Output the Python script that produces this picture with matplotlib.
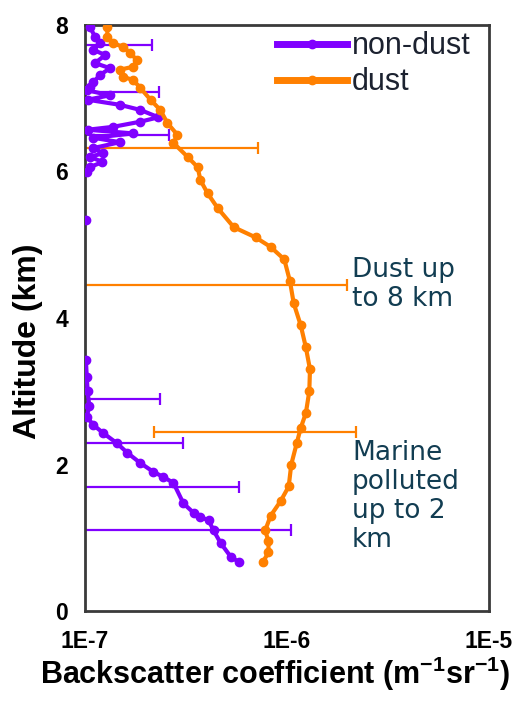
import numpy as np
import matplotlib
matplotlib.use('Agg')
import matplotlib.pyplot as plt

plt.rcParams['font.family'] = ['Liberation Sans', 'DejaVu Sans']
plt.rcParams['mathtext.default'] = 'regular'

# dust profile (altitude km, backscatter m-1 sr-1)
dust_alt = [0.67, 0.8, 0.95, 1.1, 1.3, 1.5, 1.7, 2.0, 2.3, 2.5, 2.7, 3.0, 3.3, 3.6,
            3.9, 4.2, 4.5, 4.8, 4.97, 5.1, 5.24, 5.5, 5.7, 5.88, 6.06, 6.2, 6.39,
            6.5, 6.66, 6.84, 6.98, 7.14, 7.25, 7.29, 7.39, 7.43, 7.52, 7.62, 7.7,
            7.75, 7.84, 7.97]
dust_val = [7.6e-7, 8.1e-7, 8.1e-7, 7.8e-7, 8.3e-7, 9.3e-7, 1.02e-6, 1.05e-6,
            1.12e-6, 1.17e-6, 1.24e-6, 1.29e-6, 1.30e-6, 1.24e-6, 1.17e-6,
            1.08e-6, 1.035e-6, 9.7e-7, 8.3e-7, 7.0e-7, 5.45e-7, 4.54e-7, 4.05e-7,
            3.73e-7, 3.61e-7, 3.22e-7, 2.74e-7, 2.87e-7, 2.56e-7, 2.36e-7,
            2.11e-7, 1.88e-7, 1.73e-7, 1.55e-7, 1.49e-7, 1.73e-7, 1.81e-7,
            1.67e-7, 1.55e-7, 1.38e-7, 1.29e-7, 1.29e-7]

# non-dust profile (nan where the values fall below the axis)
nd_alt = [0.67, 0.74, 0.93, 1.1, 1.24, 1.28, 1.34, 1.47, 1.75, 1.83, 1.9, 2.02,
          2.16, 2.29, 2.43, 2.54, 2.65, 2.8, 3.0, 3.2, 3.43, 4.4, 5.34, 5.6,
          5.99, 6.06, 6.13, 6.2, 6.25, 6.32, 6.40, 6.46, 6.52, 6.57, 6.61, 6.68,
          6.74, 6.84, 6.91, 6.98, 7.04, 7.11, 7.15, 7.22, 7.32, 7.41, 7.48, 7.59,
          7.66, 7.75, 7.84, 7.97]
nd_val = [5.77e-7, 5.27e-7, 4.69e-7, 4.33e-7, 4.09e-7, 3.73e-7, 3.45e-7, 3.07e-7,
          2.74e-7, 2.44e-7, 2.18e-7, 1.88e-7, 1.62e-7, 1.44e-7, 1.23e-7, 1.10e-7,
          1.02e-7, 1.05e-7, 1.03e-7, 1.02e-7, 1.01e-7, np.nan, 1.01e-7, np.nan,
          1.02e-7, 1.06e-7, 1.22e-7, 1.06e-7, 1.23e-7, 1.10e-7, 1.49e-7, 1.10e-7,
          1.73e-7, 1.03e-7, 1.38e-7, 1.88e-7, 2.31e-7, 1.88e-7, 1.49e-7, 1.03e-7,
          1.33e-7, 1.02e-7, 1.06e-7, 1.10e-7, 1.19e-7, 1.33e-7, 1.12e-7, 1.26e-7,
          1.10e-7, 1.19e-7, 1.12e-7, 1.06e-7]

# error bars
nd_err_alt = [7.73, 7.09, 6.5, 2.9, 2.3, 1.69, 1.1]
nd_err_val = [1.1e-7, 1.1e-7, 1.2e-7, 1.03e-7, 1.44e-7, 2.74e-7, 4.33e-7]
nd_err = [1.05e-7, 1.23e-7, 1.42e-7, 1.33e-7, 1.63e-7, 3.04e-7, 6.12e-7]
dust_err_alt = [6.32, 4.45, 2.45]
dust_err_val = [2.8e-7, 1.035e-6, 1.21e-6]
dust_err = [4.4e-7, 0.95e-6, 0.99e-6]

purple = '#8000ff'
orange = '#ff8000'

fig = plt.figure(figsize=(5.28, 7.02), dpi=100)
ax = fig.add_axes([0.161, 0.1296, 0.765, 0.8348])
ax.set_xscale('log')

ax.errorbar(nd_err_val, nd_err_alt, xerr=nd_err, fmt='none', ecolor=purple,
            elinewidth=1.6, capsize=4.5, capthick=1.6, zorder=2)
ax.errorbar(dust_err_val, dust_err_alt, xerr=dust_err, fmt='none', ecolor=orange,
            elinewidth=1.6, capsize=4.5, capthick=1.6, zorder=2)

ax.plot(nd_val, nd_alt, color=purple, lw=3, marker='o', ms=6, label='non-dust', zorder=3)
ax.plot(dust_val, dust_alt, color=orange, lw=3, marker='o', ms=6, label='dust', zorder=3)

ax.set_xlim(1e-7, 1e-5)
ax.set_ylim(0, 8)
ax.set_xticks([1e-7, 1e-6, 1e-5])
ax.set_xticklabels(['1E-7', '1E-6', '1E-5'])
ax.xaxis.set_minor_locator(matplotlib.ticker.NullLocator())
ax.set_yticks([0, 2, 4, 6, 8])
ax.tick_params(axis='x', length=0, pad=14, labelsize=16.5)
ax.tick_params(axis='y', length=0, pad=12, labelsize=16.5)
for lab in ax.get_xticklabels() + ax.get_yticklabels():
    lab.set_fontweight('bold')
for sp in ax.spines.values():
    sp.set_color('#3a3a3a')
    sp.set_linewidth(2)

ax.set_xlabel('Backscatter coefficient (m$^{-1}$sr$^{-1}$)', fontsize=22, fontweight='bold')
ax.xaxis.set_label_coords(0.47, -0.075)
ax.set_ylabel('Altitude (km)', fontsize=23, fontweight='bold')
ax.yaxis.set_label_coords(-0.104, 0.461)

leg = ax.legend(loc='upper right', bbox_to_anchor=(0.985, 1.01), frameon=False,
                fontsize=22, handlelength=2.3, handletextpad=0.15,
                labelspacing=0.2, borderaxespad=0.0)
for t in leg.get_texts():
    t.set_color('#1c2230')
for h in leg.get_lines():
    h.set_linewidth(5)

txt_color = '#123d52'
ax.text(0.661, 0.604, 'Dust up\nto 8 km', transform=ax.transAxes, ha='left', va='top',
        fontsize=19, color=txt_color, family='DejaVu Sans', linespacing=1.15)
ax.text(0.661, 0.292, 'Marine\npolluted\nup to 2\nkm', transform=ax.transAxes, ha='left',
        va='top', fontsize=19, color=txt_color, family='DejaVu Sans', linespacing=1.15)

plt.savefig('out.png', dpi=100)
